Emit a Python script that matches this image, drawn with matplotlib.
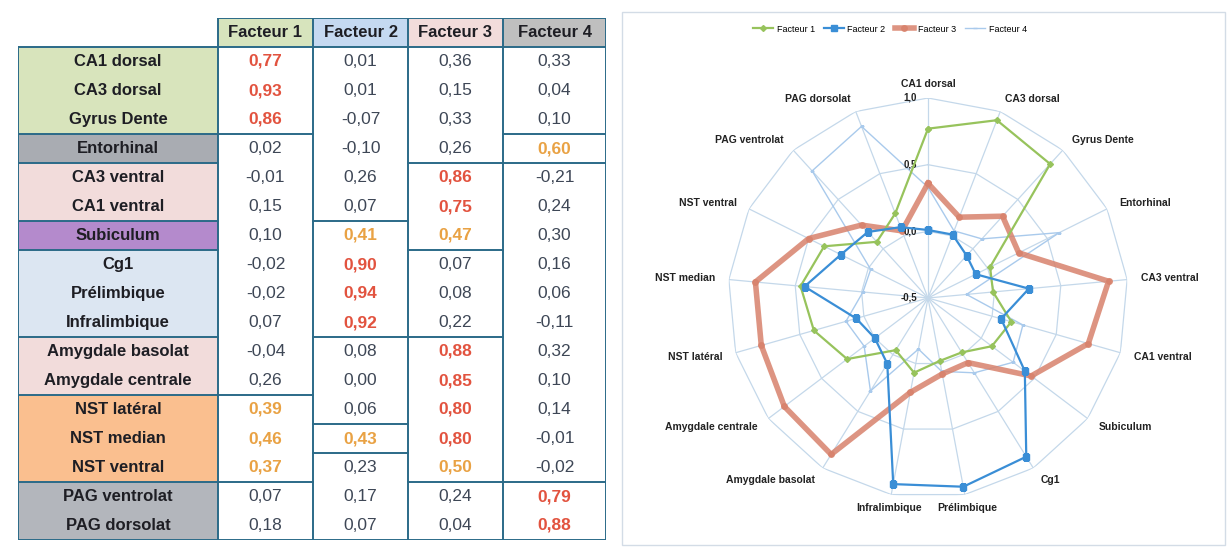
import numpy as np
import matplotlib.pyplot as plt
from matplotlib.patches import Rectangle

plt.rcParams['font.family'] = ['Liberation Sans', 'DejaVu Sans']

# --- data -------------------------------------------------------------
regions = ['CA1 dorsal', 'CA3 dorsal', 'Gyrus Dente', 'Entorhinal', 'CA3 ventral',
           'CA1 ventral', 'Subiculum', 'Cg1', 'Prélimbique', 'Infralimbique',
           'Amygdale basolat', 'Amygdale centrale', 'NST latéral', 'NST median',
           'NST ventral', 'PAG ventrolat', 'PAG dorsolat']
factors = ['Facteur 1', 'Facteur 2', 'Facteur 3', 'Facteur 4']

f1 = [0.77, 0.93, 0.86, 0.02, -0.01, 0.15, 0.10, -0.02, -0.02, 0.07, -0.04, 0.26, 0.39, 0.46, 0.37, 0.07, 0.18]
f2 = [0.01, 0.01, -0.07, -0.10, 0.26, 0.07, 0.41, 0.90, 0.94, 0.92, 0.08, 0.00, 0.06, 0.43, 0.23, 0.17, 0.07]
f3 = [0.36, 0.15, 0.33, 0.26, 0.86, 0.75, 0.47, 0.07, 0.08, 0.22, 0.88, 0.85, 0.80, 0.80, 0.50, 0.24, 0.04]
f4 = [0.33, 0.04, 0.10, 0.60, -0.21, 0.24, 0.30, 0.16, 0.06, -0.11, 0.32, 0.10, 0.14, -0.01, -0.02, 0.79, 0.88]
loadings = [f1, f2, f3, f4]

# region groups (label cell colour)
groups = ['hip_d', 'hip_d', 'hip_d', 'ento', 'hip_v', 'hip_v', 'sub', 'pfc', 'pfc', 'pfc',
          'amy', 'amy', 'nst', 'nst', 'nst', 'pag', 'pag']

# --- styles -----------------------------------------------------------
group_bg = {'hip_d': '#d8e4bc', 'ento': '#a9acb2', 'hip_v': '#f2dcdb', 'sub': '#b48acc',
            'pfc': '#dce6f2', 'amy': '#f2dcdb', 'nst': '#fabf8f', 'pag': '#b3b6bc'}
header_bg = ['#d7e4bd', '#c5d9f1', '#f2dcdb', '#bfbfbf']
line_col = '#2b6a88'
txt_col = '#3e4756'
red = '#e2533f'
orange = '#e9a244'

# horizontal rules per column (row boundaries, 0 = below header)
rules = [
    [0, 3, 4, 6, 7, 10, 12, 15, 17],   # labels
    [0, 3, 12, 15, 17],                # facteur 1
    [0, 6, 10, 13, 14, 17],            # facteur 2
    [0, 4, 7, 10, 15, 17],             # facteur 3
    [0, 3, 4, 15, 17],                 # facteur 4
]
col_edges = [0, 200, 295, 390, 485, 588]

W, H = 1229, 548
fig = plt.figure(figsize=(W / 100, H / 100), dpi=100)

# --- table ------------------------------------------------------------
ax = fig.add_axes([18 / W, 1 - 540 / H, 588 / W, 522 / H])
ax.set_xlim(0, 588)
ax.set_ylim(18, 0)
ax.axis('off')

n = len(regions)
for i, name in enumerate(regions):
    y = i + 1
    ax.add_patch(Rectangle((col_edges[0], y), col_edges[1] - col_edges[0], 1,
                           fc=group_bg[groups[i]], ec='none'))
    ax.text((col_edges[0] + col_edges[1]) / 2, y + 0.5, name, ha='center', va='center',
            fontsize=12, fontweight='bold', color='#1e1e24')
    for j, vals in enumerate(loadings):
        v = vals[i]
        if v >= 0.7:
            c, fw = red, 'bold'
        elif v >= 0.37:
            c, fw = orange, 'bold'
        else:
            c, fw = txt_col, 'normal'
        s = f'{v:.2f}'.replace('.', ',')
        if s == '-0,00':
            s = '0,00'
        ax.text((col_edges[j + 1] + col_edges[j + 2]) / 2, y + 0.5, s, ha='center',
                va='center', fontsize=12.5, color=c, fontweight=fw)

for j, name in enumerate(factors):
    x0, x1 = col_edges[j + 1], col_edges[j + 2]
    ax.add_patch(Rectangle((x0, 0), x1 - x0, 1, fc=header_bg[j], ec='none'))
    ax.text((x0 + x1) / 2, 0.5, name, ha='center', va='center', fontsize=12,
            fontweight='bold', color='#1e1e24')
    ax.plot([x0, x1], [0, 0], color=line_col, lw=1.4)

for k, rows in enumerate(rules):
    for r in rows:
        ax.plot([col_edges[k], col_edges[k + 1]], [r + 1, r + 1], color=line_col, lw=1.4)
ax.plot([0, 0], [1, 18], color=line_col, lw=1.4)
for x in col_edges[1:]:
    ax.plot([x, x], [0, 18], color=line_col, lw=1.4)

# --- radar ------------------------------------------------------------
fig.add_artist(Rectangle((622 / W, 3 / H), 603 / W, 533 / H, transform=fig.transFigure,
                         fill=False, ec='#d3dce6', lw=1))

cx, cy, R = 928, 298, 200
rax = fig.add_axes([(cx - R) / W, 1 - (cy + R) / H, 2 * R / W, 2 * R / H], projection='polar')
rax.set_theta_zero_location('N')
rax.set_theta_direction(-1)
rax.set_ylim(-0.5, 1.0)
rax.grid(False)
rax.set_xticks([])
rax.set_yticks([])
rax.spines['polar'].set_visible(False)
rax.patch.set_alpha(0)

theta = np.linspace(0, 2 * np.pi, n, endpoint=False)
th_closed = np.append(theta, theta[0])
grid_col = '#c4d8ea'
for level in [0.0, 0.5, 1.0]:
    rax.plot(th_closed, [level] * (n + 1), color=grid_col, lw=0.9, zorder=1)
for th in theta:
    rax.plot([th, th], [-0.5, 1.0], color=grid_col, lw=0.9, zorder=1)

styles = [
    dict(color='#97c35c', lw=1.6, marker='D', ms=3, zorder=4),
    dict(color='#3a8ed6', lw=1.6, marker='s', ms=4, zorder=5),
    dict(color='#d8826c', lw=4, marker='o', ms=4, alpha=0.85, zorder=3),
    dict(color='#a9caec', lw=1.0, marker='_', ms=3, zorder=2),
]
for name, vals, st in zip(factors, loadings, styles):
    rax.plot(th_closed, np.append(vals, vals[0]), label=name, **st)

for th, name in zip(theta, regions):
    s, c = np.sin(th), np.cos(th)
    if s > 0.3:
        ha = 'left'
    elif s < -0.3:
        ha = 'right'
    else:
        ha = 'center'
    rax.annotate(name, xy=(th, 1.0), xytext=(s * 10, c * 10), textcoords='offset points',
                 ha=ha, va='center', fontsize=7.5, fontweight='bold', color='#222222',
                 annotation_clip=False)

for level in [-0.5, 0.0, 0.5, 1.0]:
    rax.annotate(f'{level:.1f}'.replace('.', ','), xy=(0, level), xytext=(-8, 0),
                 textcoords='offset points', ha='right', va='center', fontsize=7,
                 fontweight='bold', color='#222222', annotation_clip=False)

fig.legend(loc='center', bbox_to_anchor=(890 / W, 1 - 29 / H), ncol=4, frameon=False,
           fontsize=6.5, handlelength=2.2, columnspacing=1.0, handletextpad=0.4)

fig.savefig('out.png', dpi=100)
